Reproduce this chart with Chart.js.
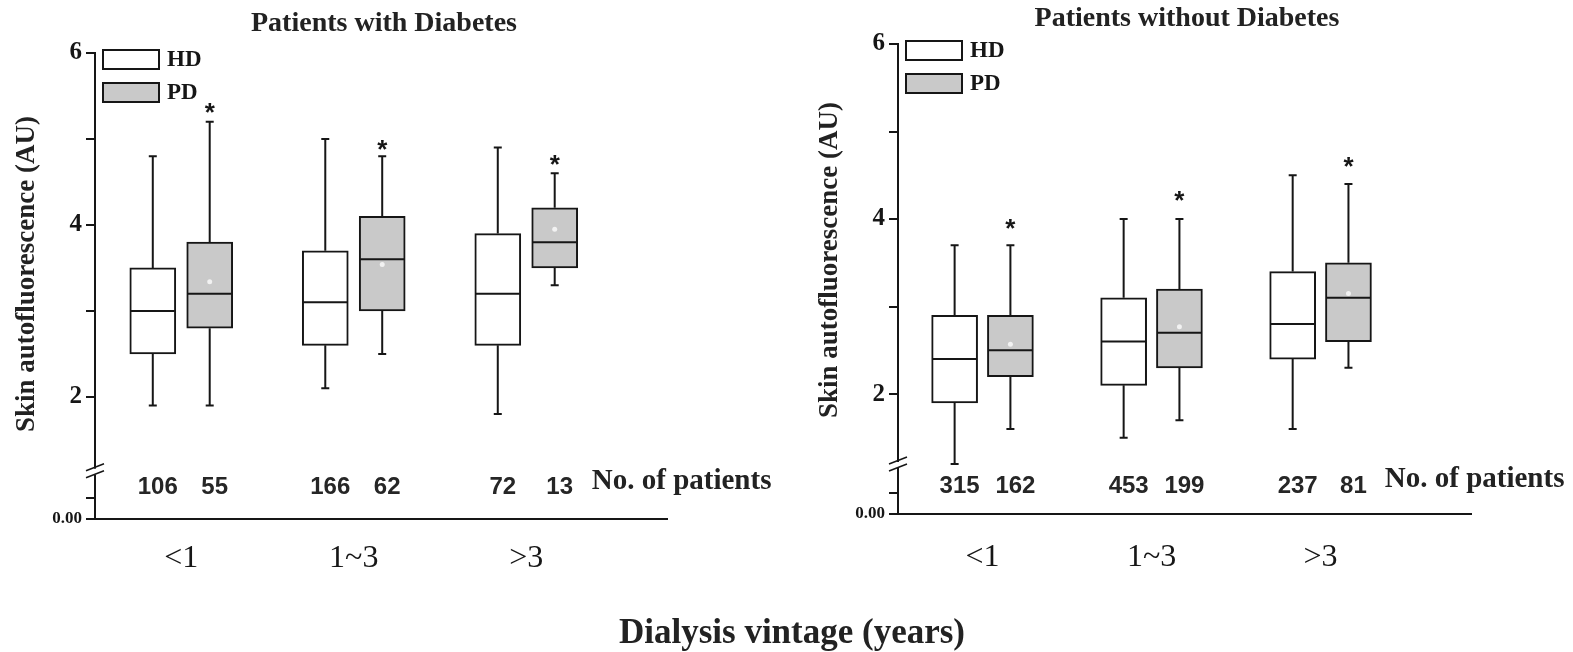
<!DOCTYPE html>
<html lang="en">
<head>
<meta charset="UTF-8">
<title>Skin autofluorescence by dialysis vintage</title>
<style>
  html, body { margin: 0; padding: 0; background: #fff; }
  body { width: 1573px; height: 652px; position: relative; overflow: hidden; }
  .panel { position: absolute; top: 0; height: 652px; }
  #left { left: 0; width: 790px; }
  #right { left: 790px; width: 783px; }
  #xtitle { position: absolute; left: 0; width: 1584px; top: 612px; line-height: 42px; text-align: center;
            font: bold 35px "Liberation Serif", serif; color: #222; }
</style>
</head>
<body>
<div class="panel" id="left"><canvas id="chartLeft"></canvas></div>
<div class="panel" id="right"><canvas id="chartRight"></canvas></div>
<div id="xtitle">Dialysis vintage (years)</div>
<script src="https://cdn.jsdelivr.net/npm/chart.js"></script>
<script>
// dialysis vintage groups and series
const groups = ['<1', '1~3', '>3'];
const seriesNames = ['HD', 'PD'];

// patients with diabetes: [lower whisker, Q1, median, Q3, upper whisker]
const dmHD = [[1.9, 2.5, 3.0, 3.5, 4.8], [2.1, 2.6, 3.1, 3.7, 5.0], [1.8, 2.6, 3.2, 3.9, 4.9]];
const dmPD = [[1.9, 2.8, 3.2, 3.8, 5.2], [2.5, 3.0, 3.6, 4.1, 4.8], [3.3, 3.5, 3.8, 4.2, 4.6]];
const dmPDMean = [3.34, 3.54, 3.95];
const dmHDCount = [106, 166, 72];
const dmPDCount = [55, 62, 13];
const dmStarAt = [5.38, 4.95, 4.78];

// patients without diabetes
const ndHD = [[1.2, 1.9, 2.4, 2.9, 3.7], [1.5, 2.1, 2.6, 3.1, 4.0], [1.6, 2.4, 2.8, 3.4, 4.5]];
const ndPD = [[1.6, 2.2, 2.5, 2.9, 3.7], [1.7, 2.3, 2.7, 3.2, 4.0], [2.3, 2.6, 3.1, 3.5, 4.4]];
const ndPDMean = [2.57, 2.77, 3.15];
const ndHDCount = [315, 453, 237];
const ndPDCount = [162, 199, 81];
const ndStarAt = [3.97, 4.29, 4.68];

const SERIF = '"Liberation Serif", "Times New Roman", serif';
const SANS = '"Liberation Sans", Arial, sans-serif';
const INK = '#161616';
const PD_FILL = '#c9c9c9';
const HALF = 0.165;   // HD / PD offset inside a group, in x units
const BOX_W = 46;

function extrasPlugin(p) {
    return {
        id: 'boxExtras',
        afterDatasetsDraw(chart) {
            const { ctx, chartArea: a, scales: { x, y } } = chart;
            ctx.save();
            ctx.strokeStyle = INK;
            ctx.lineWidth = 2;
            // whiskers + medians
            [p.hd, p.pd].forEach((set, s) => {
                set.forEach((b, i) => {
                    const cx = x.getPixelForValue(i + 0.5 + (s ? HALF : -HALF));
                    const [lo, q1, med, q3, hi] = b.map(v => y.getPixelForValue(v));
                    ctx.beginPath();
                    ctx.moveTo(cx, q3); ctx.lineTo(cx, hi);
                    ctx.moveTo(cx - 4, hi); ctx.lineTo(cx + 4, hi);
                    ctx.moveTo(cx, q1); ctx.lineTo(cx, lo);
                    ctx.moveTo(cx - 4, lo); ctx.lineTo(cx + 4, lo);
                    ctx.moveTo(cx - BOX_W / 2 + 1, med); ctx.lineTo(cx + BOX_W / 2 - 1, med);
                    ctx.stroke();
                });
            });
            // faint mean markers in PD boxes
            ctx.fillStyle = 'rgba(255,255,255,0.75)';
            p.pdMean.forEach((m, i) => {
                ctx.beginPath();
                ctx.arc(x.getPixelForValue(i + 0.5 + HALF), y.getPixelForValue(m), 2.5, 0, Math.PI * 2);
                ctx.fill();
            });
            // significance stars
            ctx.fillStyle = INK;
            ctx.font = 'bold 26px ' + SANS;
            ctx.textAlign = 'center';
            ctx.textBaseline = 'alphabetic';
            p.stars.forEach((v, i) => {
                ctx.fillText('*', x.getPixelForValue(i + 0.5 + HALF), y.getPixelForValue(v) + 15);
            });
            // patient counts
            ctx.fillStyle = '#262626';
            ctx.font = 'bold 24px ' + SANS;
            ctx.textBaseline = 'middle';
            groups.forEach((g, i) => {
                ctx.fillText(String(p.hdN[i]), x.getPixelForValue(i + 0.5 - HALF) + 5, y.getPixelForValue(0.95));
                ctx.fillText(String(p.pdN[i]), x.getPixelForValue(i + 0.5 + HALF) + 5, y.getPixelForValue(0.95));
            });
            ctx.fillStyle = '#222';
            ctx.font = 'bold 29px ' + SERIF;
            ctx.textAlign = 'left';
            ctx.fillText('No. of patients', x.getPixelForValue(2.88), y.getPixelForValue(1.02));
            // axis break
            const by = y.getPixelForValue(p.brk);
            ctx.fillStyle = '#fff';
            ctx.fillRect(a.left - 3, by - 3, 6, 6);
            ctx.beginPath();
            ctx.lineWidth = 1.5;
            ctx.moveTo(a.left - 9, by - 1); ctx.lineTo(a.left + 9, by - 8);
            ctx.moveTo(a.left - 9, by + 6); ctx.lineTo(a.left + 9, by - 1);
            ctx.stroke();
            // legend
            ctx.lineWidth = 2;
            ctx.font = 'bold 23px ' + SERIF;
            ctx.textBaseline = 'middle';
            seriesNames.forEach((name, k) => {
                const bx = a.left + 8, bt = a.top - 3 + k * 33;
                ctx.fillStyle = k ? PD_FILL : '#fff';
                ctx.fillRect(bx, bt, 56, 19);
                ctx.strokeRect(bx, bt, 56, 19);
                ctx.fillStyle = INK;
                ctx.fillText(name, bx + 64, bt + 10);
            });
            // panel title
            ctx.textAlign = 'center';
            ctx.font = 'bold 28px ' + SERIF;
            ctx.fillStyle = '#222';
            ctx.fillText(p.title, a.left + 289, p.titleY);
            // y axis title
            ctx.save();
            ctx.translate(a.left - 68, p.yTitleY);
            ctx.rotate(-Math.PI / 2);
            ctx.font = 'bold 27px ' + SERIF;
            ctx.fillText('Skin autofluorescence (AU)', 0, 0);
            ctx.restore();
            ctx.restore();
        }
    };
}

function makePanel(canvasId, p) {
    const yLabel = v => (v === 6 ? '6' : v === 4 ? '4' : v === 2 ? '2' : v === p.yMin ? '0.00' : '');
    return new Chart(document.getElementById(canvasId), {
        type: 'bar',
        data: {
            datasets: [
                {
                    label: seriesNames[0],
                    data: p.hd.map((b, i) => ({ x: i + 0.5 - HALF, y: [b[1], b[3]] })),
                    backgroundColor: '#fff', borderColor: INK, borderWidth: 2, borderSkipped: false,
                    barThickness: BOX_W
                },
                {
                    label: seriesNames[1],
                    data: p.pd.map((b, i) => ({ x: i + 0.5 + HALF, y: [b[1], b[3]] })),
                    backgroundColor: PD_FILL, borderColor: INK, borderWidth: 2, borderSkipped: false,
                    barThickness: BOX_W
                }
            ]
        },
        options: {
            responsive: true,
            maintainAspectRatio: false,
            animation: false,
            grouped: false,
            layout: { padding: { top: p.padTop, right: p.padRight, left: 0, bottom: 0 } },
            plugins: { legend: { display: false }, tooltip: { enabled: false } },
            scales: {
                x: {
                    type: 'linear', min: 0, max: p.xMax, offset: false,
                    afterBuildTicks: s => { s.ticks = groups.map((g, i) => ({ value: i + 0.5 })); },
                    afterFit: s => { s.height = p.axisBottom; },
                    border: { display: true, color: INK, width: 2 },
                    grid: { display: true, offset: false, drawOnChartArea: false, drawTicks: false },
                    ticks: {
                        autoSkip: false, maxRotation: 0, padding: p.xPad, color: '#161616',
                        font: { family: SERIF, size: 32 },
                        callback: (v) => groups[Math.round(v - 0.5)] || ''
                    }
                },
                y: {
                    min: p.yMin, max: 6,
                    afterBuildTicks: s => { s.ticks = [p.yMin, p.minorTick, 2, 3, 4, 5, 6].map(v => ({ value: v })); },
                    afterFit: s => { s.width = p.axisLeft; },
                    border: { display: true, color: INK, width: 2 },
                    grid: { drawOnChartArea: false, color: INK, lineWidth: 2, tickLength: 9 },
                    ticks: {
                        autoSkip: false, padding: 4, color: '#161616',
                        font: ctx => (ctx.tick && ctx.tick.value === p.yMin)
                            ? { family: SERIF, size: 17, weight: 'bold' }
                            : { family: SERIF, size: 25, weight: 'bold' },
                        callback: v => yLabel(v)
                    }
                }
            }
        },
        plugins: [extrasPlugin(p)]
    });
}

makePanel('chartLeft', {
    title: 'Patients with Diabetes', titleY: 24, yTitleY: 274,
    hd: dmHD, pd: dmPD, pdMean: dmPDMean, hdN: dmHDCount, pdN: dmPDCount, stars: dmStarAt,
    padTop: 53, padRight: 123, axisLeft: 95, axisBottom: 133, xPad: 20,
    yMin: 0.58, minorTick: 0.83, brk: 1.13, xMax: 3.316
});

makePanel('chartRight', {
    title: 'Patients without Diabetes', titleY: 19, yTitleY: 260,
    hd: ndHD, pd: ndPD, pdMean: ndPDMean, hdN: ndHDCount, pdN: ndPDCount, stars: ndStarAt,
    padTop: 44, padRight: 102, axisLeft: 108, axisBottom: 138, xPad: 24,
    yMin: 0.63, minorTick: 0.87, brk: 1.19, xMax: 3.39
});
</script>
</body>
</html>
